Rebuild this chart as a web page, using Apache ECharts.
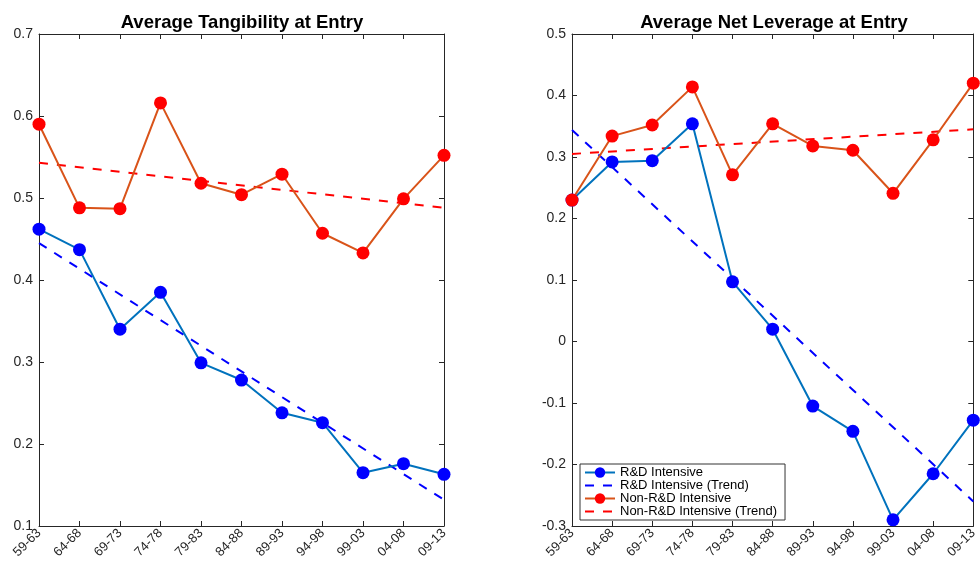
<!DOCTYPE html>
<html><head><meta charset="utf-8">
<script src="https://cdn.jsdelivr.net/npm/echarts@6/dist/echarts.min.js"></script>
<style>html,body{margin:0;padding:0;background:#fff}#c{width:980px;height:562px}</style>
</head><body><div id="c"></div>
<script>
var categories = ['59-63','64-68','69-73','74-78','79-83','84-88','89-93','94-98','99-03','04-08','09-13'];
// Left panel: Average Tangibility at Entry
var tangRD    = [0.462,0.437,0.340,0.385,0.299,0.278,0.238,0.226,0.165,0.176,0.163];
var tangNonRD = [0.590,0.488,0.487,0.616,0.518,0.504,0.529,0.457,0.433,0.499,0.552];
var tangRDTrend    = [[0,0.445],[10,0.132]];
var tangNonRDTrend = [[0,0.543],[10,0.488]];
// Right panel: Average Net Leverage at Entry
var levRD    = [0.230,0.292,0.294,0.354,0.097,0.020,-0.105,-0.146,-0.290,-0.215,-0.128];
var levNonRD = [0.230,0.334,0.352,0.414,0.271,0.354,0.318,0.311,0.241,0.328,0.420];
var levRDTrend    = [[0,0.344],[10,-0.260]];
var levNonRDTrend = [[0,0.305],[10,0.345]];

var titles = ['Average Tangibility at Entry','Average Net Leverage at Entry'];
var names = ['R&D Intensive','R&D Intensive (Trend)','Non-R&D Intensive','Non-R&D Intensive (Trend)'];

var FONT = '"Liberation Sans", Arial, Helvetica, sans-serif';
var axisCol = '#262626';
var grids = [{left:39, top:34, width:405, height:492},{left:572, top:34, width:405, height:492}];

function xAx(gi, pos){
  return {type:'category', gridIndex:gi, data:categories, boundaryGap:false, position:pos,
    axisLine:{show:true, onZero:false, lineStyle:{color:axisCol, width:1}},
    axisTick:{show:true, inside:true, length:5, alignWithLabel:true, lineStyle:{color:axisCol}},
    axisLabel:{show:pos==='bottom', rotate:45, color:axisCol, fontSize:13, fontFamily:FONT, margin:5, interval:0},
    splitLine:{show:false}};
}
function yAx(gi, pos, min, max){
  return {type:'value', gridIndex:gi, min:min, max:max, interval:0.1, position:pos,
    axisLine:{show:true, lineStyle:{color:axisCol, width:1}},
    axisTick:{show:true, inside:true, length:5, lineStyle:{color:axisCol}},
    axisLabel:{show:pos==='left', color:axisCol, fontSize:14, fontFamily:FONT, margin:6},
    splitLine:{show:false}};
}
function mk(gi, rd, nonrd, rdT, nonT){
  return [
    {name:names[0], type:'line', xAxisIndex:gi*2, yAxisIndex:gi*2, data:rd, symbol:'circle', symbolSize:13,
      lineStyle:{color:'#0072BD', width:2}, itemStyle:{color:'#0000FF'}, z:3},
    {name:names[1], type:'line', xAxisIndex:gi*2, yAxisIndex:gi*2, data:rdT, symbol:'none',
      lineStyle:{color:'#0000FF', width:2, type:[9,9]}, itemStyle:{color:'#0000FF'}, z:2},
    {name:names[2], type:'line', xAxisIndex:gi*2, yAxisIndex:gi*2, data:nonrd, symbol:'circle', symbolSize:13,
      lineStyle:{color:'#D95319', width:2}, itemStyle:{color:'#FF0000'}, z:3},
    {name:names[3], type:'line', xAxisIndex:gi*2, yAxisIndex:gi*2, data:nonT, symbol:'none',
      lineStyle:{color:'#FF0000', width:2, type:[9,9]}, itemStyle:{color:'#FF0000'}, z:2}
  ];
}

var option = {
  animation:false,
  backgroundColor:'#fff',
  title:[
    {text:titles[0], left:237, top:8, textAlign:'center', textStyle:{fontFamily:FONT, fontSize:18.5, fontWeight:'bold', color:'#000'}},
    {text:titles[1], left:769, top:8, textAlign:'center', textStyle:{fontFamily:FONT, fontSize:18.5, fontWeight:'bold', color:'#000'}}
  ],
  grid:grids,
  xAxis:[xAx(0,'bottom'), xAx(0,'top'), xAx(1,'bottom'), xAx(1,'top')],
  yAxis:[yAx(0,'left',0.1,0.7), yAx(0,'right',0.1,0.7), yAx(1,'left',-0.3,0.5), yAx(1,'right',-0.3,0.5)],
  legend:{
    data:[
      {name:names[0]},
      {name:names[1], itemStyle:{opacity:0}},
      {name:names[2]},
      {name:names[3], itemStyle:{opacity:0}}
    ],
    orient:'vertical', left:580, top:464, itemWidth:30, itemHeight:13, itemGap:0,
    padding:[2,8,2,4], backgroundColor:'#fff', borderColor:'#333', borderWidth:1,
    textStyle:{fontFamily:FONT, fontSize:13, color:'#000'}
  },
  series:[].concat(mk(0,tangRD,tangNonRD,tangRDTrend,tangNonRDTrend), mk(1,levRD,levNonRD,levRDTrend,levNonRDTrend))
};
var chart = echarts.init(document.getElementById('c'), null, {renderer:'canvas'});
chart.setOption(option);
</script>
</body></html>
